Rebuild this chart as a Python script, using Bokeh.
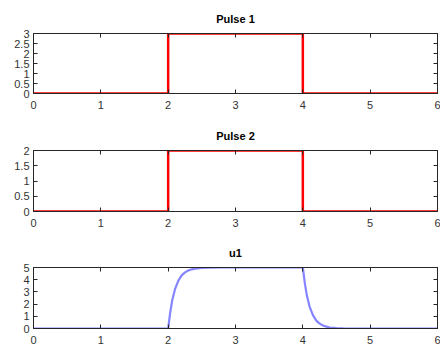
from bokeh.plotting import figure
from bokeh.layouts import column
from bokeh.models import LinearAxis, Range1d, FixedTicker, CustomJSTickFormatter
from bokeh.embed import file_html
from bokeh.resources import INLINE

# data
t_pulse = [0, 2, 2, 4, 4, 6]
pulse1 = [0, 0, 3, 3, 0, 0]
pulse2 = [0, 0, 2, 2, 0, 0]

t_u1 = [0, 2.0, 2.03, 2.06, 2.1, 2.15, 2.2, 2.25, 2.3, 2.35, 2.4, 2.5, 2.6, 2.8,
        4.0, 4.03, 4.06, 4.1, 4.15, 4.2, 4.25, 4.3, 4.35, 4.4, 4.5, 4.6, 4.8, 6]
u1 = [0, 0, 1.3, 2.3, 3.2, 3.9, 4.35, 4.6, 4.75, 4.85, 4.9, 4.96, 4.99, 5.0,
      5.0, 3.7, 2.7, 1.8, 1.1, 0.65, 0.4, 0.25, 0.15, 0.08, 0.03, 0.01, 0.0, 0.0]

titles = ["Pulse 1", "Pulse 2", "u1"]
x_ticks = [0, 1, 2, 3, 4, 5, 6]
y1_ticks = [0, 0.5, 1, 1.5, 2, 2.5, 3]
y2_ticks = [0, 0.5, 1, 1.5, 2]
y3_ticks = [0, 1, 2, 3, 4, 5]

FONT = "Liberation Sans"
AX = "#262626"


def style_axis(ax, show_labels, ticks, standoff=4):
    ax.ticker = FixedTicker(ticks=ticks)
    ax.major_tick_in = 4
    ax.major_tick_out = 0
    ax.minor_tick_in = 0
    ax.minor_tick_out = 0
    ax.axis_line_color = AX
    ax.axis_line_width = 1
    ax.major_tick_line_color = AX
    ax.major_label_text_font = FONT
    ax.major_label_text_color = "#333333"
    ax.major_label_text_font_size = "11px"
    if show_labels:
        ax.major_label_standoff = standoff
    else:
        ax.formatter = CustomJSTickFormatter(code="return '';")
        ax.major_label_standoff = 0


def make(title, ymax, yticks, height, top, bottom):
    p = figure(width=440, height=height, output_backend="svg", toolbar_location=None,
               x_range=Range1d(0, 6), y_range=Range1d(0, ymax),
               min_border_left=33, min_border_right=3, min_border_top=top,
               min_border_bottom=bottom, title=title)
    p.title.align = "center"
    p.title.text_font = FONT
    p.title.text_font_size = "11px"
    p.title.text_font_style = "bold"
    p.title.text_color = "#000000"
    p.title.standoff = 17
    p.grid.visible = False
    p.outline_line_color = AX
    style_axis(p.xaxis[0], True, x_ticks, standoff=7)
    style_axis(p.yaxis[0], True, yticks)
    ra = LinearAxis()
    style_axis(ra, False, yticks)
    p.add_layout(ra, "right")
    ta = LinearAxis()
    style_axis(ta, False, x_ticks)
    p.add_layout(ta, "above")
    return p


p1 = make(titles[0], 3, y1_ticks, 119, 33, 26)
p1.line(t_pulse, pulse1, line_color="#ff0000", line_width=2.5)

p2 = make(titles[1], 2, y2_ticks, 117, 30, 25)
p2.line(t_pulse, pulse2, line_color="#ff0000", line_width=2.5)

p3 = make(titles[2], 5, y3_ticks, 112, 30, 20)
p3.line(t_u1, u1, line_color="#3333ff", line_alpha=0.6, line_width=2.2)

layout = column(p1, p2, p3, spacing=0)
open("out.html", "w").write(file_html(layout, INLINE))
